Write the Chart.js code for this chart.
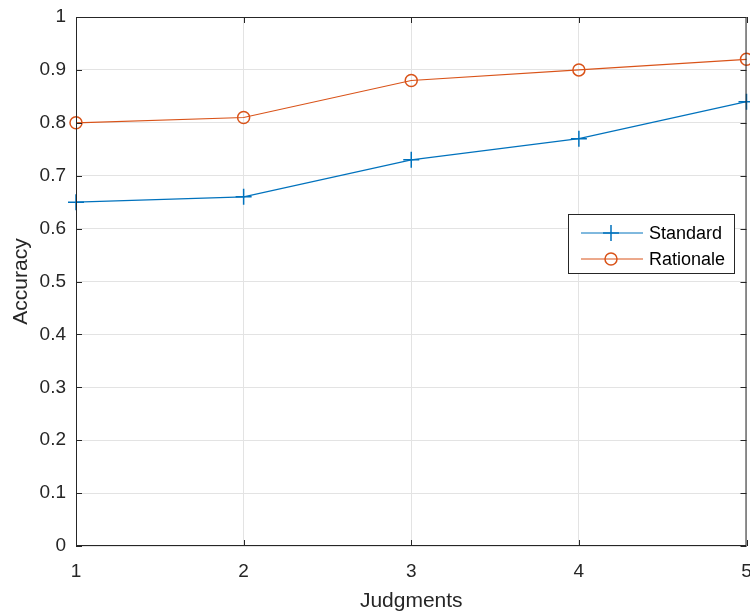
<!DOCTYPE html>
<html>
<head>
<meta charset="utf-8">
<script src="https://cdn.jsdelivr.net/npm/chart.js@4"></script>
<style>
  html, body { margin: 0; background: #fff; overflow: hidden; }
  #wrap { width: 756px; height: 611px; }
</style>
</head>
<body>
<div id="wrap"><canvas id="acc"></canvas></div>
<script>
var judgments = [1, 2, 3, 4, 5];
var standard = [0.65, 0.66, 0.73, 0.77, 0.84];
var rationale = [0.80, 0.81, 0.88, 0.90, 0.92];
var seriesNames = ['Standard', 'Rationale'];

var FONT = '"Liberation Sans", Arial, sans-serif';
var AXIS = '#262626';

// MATLAB-like box, inward ticks and legend inside the axes
var matlabBox = {
    id: 'matlabBox',
    afterDraw: function (chart) {
        var c = chart.ctx, a = chart.chartArea;
        var xs = chart.scales.x, ys = chart.scales.y;
        c.save();
        c.strokeStyle = AXIS;
        c.lineWidth = 1;
        c.strokeRect(a.left + 0.5, a.top + 0.5, a.right - a.left - 1, a.bottom - a.top - 1);
        var t = 6;
        c.beginPath();
        xs.ticks.forEach(function (tk) {
            var px = Math.round(xs.getPixelForValue(tk.value)) + 0.5;
            c.moveTo(px, a.bottom); c.lineTo(px, a.bottom - t);
            c.moveTo(px, a.top); c.lineTo(px, a.top + t);
        });
        ys.ticks.forEach(function (tk) {
            var py = Math.round(ys.getPixelForValue(tk.value)) + 0.5;
            c.moveTo(a.left, py); c.lineTo(a.left + t, py);
            c.moveTo(a.right, py); c.lineTo(a.right - t, py);
        });
        c.stroke();

        // legend
        var lx = 568, ly = 214, lw = 166, lh = 59;
        c.fillStyle = '#fff';
        c.fillRect(lx, ly, lw, lh);
        c.strokeStyle = '#262626';
        c.strokeRect(lx + 0.5, ly + 0.5, lw, lh);
        chart.data.datasets.forEach(function (ds, i) {
            var y = ly + 19 + i * 26;
            c.strokeStyle = ds.borderColor;
            c.lineWidth = 1;
            c.beginPath();
            c.moveTo(581, y); c.lineTo(643, y);
            c.stroke();
            c.lineWidth = 1.5;
            c.beginPath();
            if (ds.pointStyle === 'cross') {
                c.moveTo(611 - 8, y); c.lineTo(611 + 8, y);
                c.moveTo(611, y - 8); c.lineTo(611, y + 8);
            } else {
                c.arc(611, y, 6, 0, Math.PI * 2);
            }
            c.stroke();
            c.fillStyle = '#000';
            c.font = '18px ' + FONT;
            c.textBaseline = 'middle';
            c.fillText(ds.label, 649, y + 1);
        });
        c.restore();
    }
};

function noPadding(s) {
    s.getPadding = function () { return { left: 0, top: 0, right: 0, bottom: 0 }; };
}

var ctx = document.getElementById('acc').getContext('2d');
var chart = new Chart(ctx, {
    type: 'line',
    data: {
        datasets: [{
            label: seriesNames[0],
            data: judgments.map(function (j, i) { return { x: j, y: standard[i] }; }),
            borderColor: '#0072BD',
            backgroundColor: 'transparent',
            borderWidth: 1.2,
            pointStyle: 'cross',
            pointRadius: 8,
            pointBorderWidth: 1.5,
            pointBorderColor: '#0072BD',
            clip: false
        }, {
            label: seriesNames[1],
            data: judgments.map(function (j, i) { return { x: j, y: rationale[i] }; }),
            borderColor: '#D95319',
            backgroundColor: 'transparent',
            borderWidth: 1.2,
            pointStyle: 'circle',
            pointRadius: 6,
            pointBorderWidth: 1.5,
            pointBorderColor: '#D95319',
            pointBackgroundColor: 'transparent',
            clip: false
        }]
    },
    options: {
        responsive: true,
        maintainAspectRatio: false,
        animation: false,
        layout: { padding: { top: 17, right: 4, left: 0, bottom: 0 } },
        plugins: {
            legend: { display: false },
            tooltip: { enabled: false }
        },
        scales: {
            x: {
                type: 'linear',
                min: 1,
                max: 5,
                ticks: { stepSize: 1, color: AXIS, font: { family: FONT, size: 19 }, padding: 14 },
                grid: { color: '#e3e3e3', drawTicks: false },
                border: { display: false },
                title: { display: true, text: 'Judgments', color: AXIS, font: { family: FONT, size: 21 }, padding: { top: 0, bottom: -3 } },
                afterFit: function (s) { s.height = 65; noPadding(s); }
            },
            y: {
                min: 0,
                max: 1,
                ticks: {
                    stepSize: 0.1, color: AXIS, font: { family: FONT, size: 19 }, padding: 10,
                    callback: function (v) { return Math.round(v * 10) / 10; }
                },
                grid: { color: '#e3e3e3', drawTicks: false },
                border: { display: false },
                title: { display: true, text: 'Accuracy', color: AXIS, font: { family: FONT, size: 21 }, padding: { top: 9, bottom: 0 } },
                afterFit: function (s) { s.width = 76; noPadding(s); }
            }
        }
    },
    plugins: [matlabBox]
});
</script>
</body>
</html>
